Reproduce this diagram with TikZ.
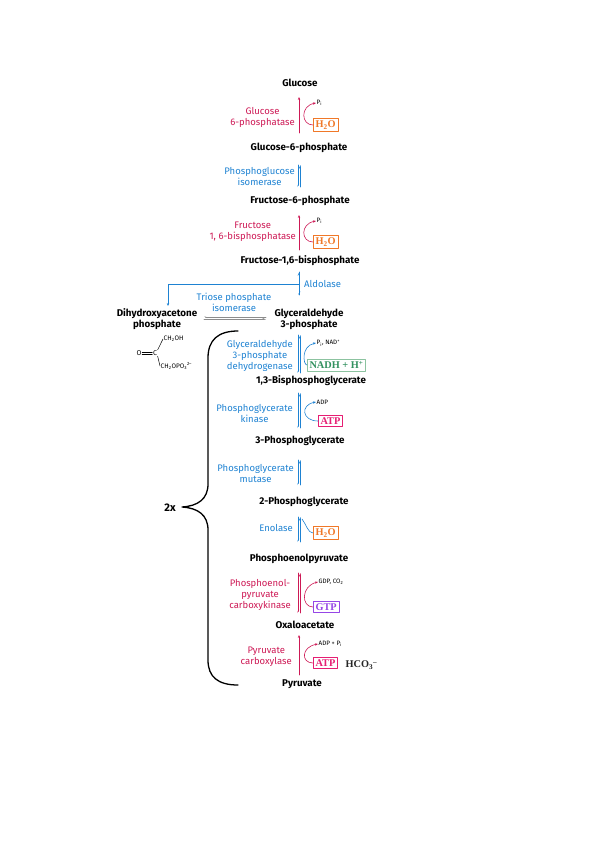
\documentclass[tikz,border=0pt]{standalone}
\usepackage{fontspec}
\setmainfont{Liberation Serif}
\setsansfont{Fira Sans}
\usetikzlibrary{arrows.meta}
\definecolor{enzblue}{RGB}{30,130,210}
\definecolor{enzred}{RGB}{205,25,85}
\definecolor{waterorg}{RGB}{240,120,40}
\definecolor{nadgreen}{RGB}{50,145,95}
\definecolor{nadline}{RGB}{140,195,160}
\definecolor{atppink}{RGB}{230,30,115}
\definecolor{gtppurp}{RGB}{150,70,230}
\definecolor{tpigray}{RGB}{140,140,140}
\tikzset{
  met/.style={font=\sffamily\bfseries\fontsize{9.8}{11}\selectfont, align=center, inner sep=1pt},
  enz/.style={font=\sffamily\fontsize{9.5}{11}\selectfont, align=center, anchor=east, inner sep=1pt},
  tiny/.style={font=\sffamily\fontsize{6.3}{7}\selectfont, anchor=west, inner sep=0.5pt},
  cofbox/.style={draw, fill=white, font=\rmfamily\bfseries\fontsize{10.3}{11}\selectfont, inner sep=2.2pt, line width=0.7pt, anchor=west},
  up/.style={-{Stealth[length=3pt,width=2.4pt]}, line width=0.6pt},
  barb/.style={-{Straight Barb[harpoon,length=2.2pt,width=2.2pt]}, line width=0.6pt}
}
\begin{document}
\begin{tikzpicture}[x=1pt, y=-1pt, line join=round, line cap=round]
  \useasboundingbox (0,0) rectangle (600,848);
  % metabolites
  \node[met] (glc) at (300,83) {Glucose};
  \node[met] (g6p) at (299,148) {Glucose-6-phosphate};
  \node[met] (f6p) at (300,201) {Fructose-6-phosphate};
  \node[met] (fbp) at (300,261) {Fructose-1,6-bisphosphate};
  \node[met] (dhap) at (157,319) {Dihydroxyacetone\\phosphate};
  \node[met] (gap) at (309,319) {Glyceraldehyde\\3-phosphate};
  \node[met] (bpg) at (311,381) {1,3-Bisphosphoglycerate};
  \node[met] (pga3) at (300,441) {3-Phosphoglycerate};
  \node[met] (pga2) at (304,502) {2-Phosphoglycerate};
  \node[met] (pep) at (299,559) {Phosphoenolpyruvate};
  \node[met] (oaa) at (305,625) {Oxaloacetate};
  \node[met] (pyr) at (302,684) {Pyruvate};
  % enzymes
  \node[enz, enzred] (g6pase) at (296,117) {Glucose\\6-phosphatase};
  \node[enz, enzblue] (pgi) at (296,176) {Phosphoglucose\\isomerase};
  \node[enz, enzred] (fbpase) at (297,232) {Fructose\\1, 6-bisphosphatase};
  \node[enz, enzblue, anchor=west] (ald) at (303,284) {Aldolase};
  \node[enz, enzblue, anchor=center] (tpi) at (234,302) {Triose phosphate\\isomerase};
  \node[enz, enzblue] (gapdh) at (294,356) {Glyceraldehyde\\3-phosphate\\dehydrogenase};
  \node[enz, enzblue] (pgk) at (294,413) {Phosphoglycerate\\kinase};
  \node[enz, enzblue] (pgm) at (295,473) {Phosphoglycerate\\mutase};
  \node[enz, enzblue] (eno) at (294,528) {Enolase};
  \node[enz, enzred] (pepck) at (292,595) {Phosphoenol-\\pyruvate\\carboxykinase};
  \node[enz, enzred] (pc) at (293,657) {Pyruvate\\carboxylase};
  % side products
  \node[tiny] (piA) at (316,103) {P\textsubscript{i}};
  \node[tiny] (piB) at (316,221) {P\textsubscript{i}};
  \node[tiny] (nad) at (316,343) {P\textsubscript{i}, NAD\textsuperscript{+}};
  \node[tiny] (adpA) at (316,402) {ADP};
  \node[tiny] (gdp) at (318,582) {GDP, CO\textsubscript{2}};
  \node[tiny] (adpB) at (318,644) {ADP + P\textsubscript{i}};
  % boxes
  \node[cofbox, draw=waterorg, text=waterorg] (wA) at (313,125) {H\textsubscript{2}O};
  \node[cofbox, draw=waterorg, text=waterorg] (wB) at (313,242) {H\textsubscript{2}O};
  \node[cofbox, draw=nadline, text=nadgreen] (nadh) at (307,365) {NADH + H\textsuperscript{+}};
  \node[cofbox, draw=atppink, text=atppink] (atpA) at (318,421) {ATP};
  \node[cofbox, draw=waterorg, text=waterorg] (wC) at (313,533) {H\textsubscript{2}O};
  \node[cofbox, draw=gtppurp, text=gtppurp] (gtp) at (313,607) {GTP};
  \node[cofbox, draw=atppink, text=atppink] (atpB) at (313,663) {ATP};
  \node[cofbox, draw=none, fill=none, text=black!85] (hco) at (343,665) {HCO\textsubscript{3}\textsuperscript{–}};
  % arrow ends
  \coordinate (s1) at (299,97);  \coordinate (e1) at (299,133);
  \coordinate (s2) at (299,165); \coordinate (e2) at (299,187);
  \coordinate (s3) at (299,215); \coordinate (e3) at (299,250);
  \coordinate (s4) at (299,272); \coordinate (e4) at (299,295);
  \coordinate (s5) at (299,335); \coordinate (e5) at (299,373);
  \coordinate (s6) at (299,393); \coordinate (e6) at (299,428);
  \coordinate (s7) at (299,460); \coordinate (e7) at (299,485);
  \coordinate (s8) at (299,517); \coordinate (e8) at (299,542);
  \coordinate (s9) at (299,573); \coordinate (e9) at (299,613);
  \coordinate (s10) at (299,635); \coordinate (e10) at (299,675);
  \coordinate (ab) at (299,284);
  \coordinate (ad) at (168,306);
  \coordinate (ta) at (204,318); \coordinate (tb) at (266,318);
  \coordinate (en) at (302,519);
  % one-way steps
  \draw[up, enzred] (e1) -- (s1);
  \draw[up, enzred] (e3) -- (s3);
  \draw[up, enzred] (e10) -- (s10);
  % two-way steps
  \draw[barb, enzblue] ([xshift=-1.2pt]s2) -- ([xshift=-1.2pt]e2);
  \draw[barb, enzblue] ([xshift=1.2pt]e2) -- ([xshift=1.2pt]s2);
  \draw[barb, enzblue] (s4) -- (e4);
  \draw[barb, enzblue] (e4) -- (s4);
  \draw[barb, enzblue] ([xshift=-1.2pt]s5) -- ([xshift=-1.2pt]e5);
  \draw[barb, enzblue] ([xshift=1.2pt]e5) -- ([xshift=1.2pt]s5);
  \draw[barb, enzblue] ([xshift=-1.2pt]s6) -- ([xshift=-1.2pt]e6);
  \draw[barb, enzblue] ([xshift=1.2pt]e6) -- ([xshift=1.2pt]s6);
  \draw[barb, enzblue] ([xshift=-1.2pt]s7) -- ([xshift=-1.2pt]e7);
  \draw[barb, enzblue] ([xshift=1.2pt]e7) -- ([xshift=1.2pt]s7);
  \draw[barb, enzblue] ([xshift=-1.2pt]s8) -- ([xshift=-1.2pt]e8);
  \draw[barb, enzblue] ([xshift=1.2pt]e8) -- ([xshift=1.2pt]s8);
  \draw[barb, enzred] ([xshift=-1.2pt]s9) -- ([xshift=-1.2pt]e9);
  \draw[barb, enzred] ([xshift=1.2pt]e9) -- ([xshift=1.2pt]s9);
  % aldolase branch and triose isomerase
  \draw[up, enzblue] (ab) -| (ad);
  \draw[barb, tpigray] ([yshift=-1.2pt]ta) -- ([yshift=-1.2pt]tb);
  \draw[barb, tpigray] ([yshift=1.2pt]tb) -- ([yshift=1.2pt]ta);
  % curved arrows
  \draw[up, enzred] (wA.west) .. controls (301,125) and (300,106) .. (piA.west);
  \draw[up, enzred] (wB.west) .. controls (301,242) and (300,224) .. (piB.west);
  \draw[up, enzblue] (nadh.west) .. controls (303,365) and (301,346) .. (nad.west);
  \draw[up, enzblue] (atpA.west) .. controls (302,421) and (300,405) .. (adpA.west);
  \draw[enzblue, line width=0.6pt] (en) .. controls (306,524) and (308,533) .. (wC.west);
  \draw[up, enzred] (gtp.west) .. controls (301,607) and (301,586) .. (gdp.west);
  \draw[up, enzred] (atpB.west) .. controls (301,663) and (301,647) .. (adpB.west);
  % DHAP structure
  \node[tiny, anchor=center, font=\sffamily\fontsize{7}{8}\selectfont] (ox) at (139,353) {O};
  \node[tiny, anchor=center, font=\sffamily\fontsize{7}{8}\selectfont] (cc) at (155,353) {C};
  \node[tiny, font=\sffamily\fontsize{6.5}{7}\selectfont] (ch) at (163,339) {CH\textsubscript{2}OH};
  \node[tiny, font=\sffamily\fontsize{6.5}{7}\selectfont] (cp) at (160,366) {CH\textsubscript{2}OPO\textsubscript{3}\textsuperscript{2–}};
  \draw[line width=0.5pt] ([yshift=-0.9pt]ox.east) -- ([yshift=-0.9pt]cc.west);
  \draw[line width=0.5pt] ([yshift=0.9pt]ox.east) -- ([yshift=0.9pt]cc.west);
  \draw[line width=0.5pt] (cc.north east) -- (ch.west);
  \draw[line width=0.5pt] (cc.south east) -- (cp.west);
  % brace
  \coordinate (bt) at (238,331);
  \coordinate (bm) at (182,507);
  \coordinate (bb) at (238,685);
  \draw[line width=1.3pt] (bt) .. controls (218,331) and (208,340) .. (208,358)
    -- (208,484) .. controls (208,499) and (198,506) .. (bm)
    .. controls (198,508) and (208,515) .. (208,530)
    -- (208,660) .. controls (208,677) and (218,685) .. (bb);
  \node[met, font=\sffamily\bfseries\fontsize{11}{12}\selectfont, anchor=east] (twox) at (177,508) {2x};
\end{tikzpicture}
\end{document}
